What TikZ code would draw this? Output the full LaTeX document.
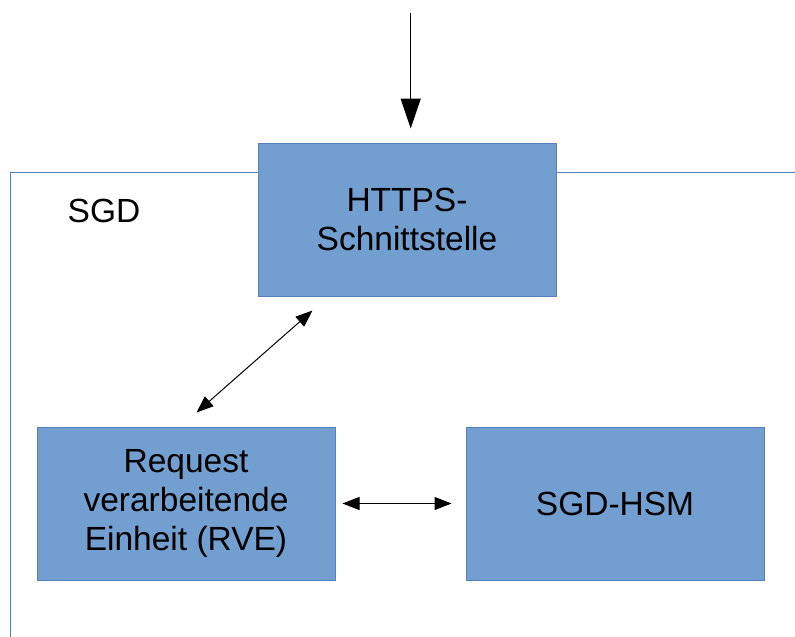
\documentclass[tikz,border=0pt]{standalone}
\usepackage{fontspec}
\setmainfont{Liberation Sans}
\usetikzlibrary{arrows.meta,calc}
\definecolor{boxfill}{HTML}{729FCF}
\definecolor{boxline}{HTML}{5683C0}
\definecolor{frameline}{HTML}{4F81BD}
\tikzset{
  unitbox/.style={draw=boxline, line width=1pt, fill=boxfill,
    minimum width=298pt, minimum height=153pt, inner sep=0pt,
    align=center, font=\fontsize{33.5}{39}\selectfont},
  inarrow/.style={line width=1.4pt, -{Triangle[length=30pt,width=20pt]}},
  linkarrow/.style={line width=1pt, {Triangle[length=17pt,width=13pt]}-{Triangle[length=17pt,width=13pt]}},
  framelabel/.style={font=\fontsize{33.5}{39}\selectfont, inner sep=0pt}
}
\begin{document}
\begin{tikzpicture}[x=1pt,y=-1pt]
  \useasboundingbox (0,0) rectangle (795,637);
  % open system frame
  \draw[frameline, line width=1pt] (10,637) -- (10,172) -- (795,172);
  \node[framelabel] (sgd) at (104,211) {SGD};
  % components
  \node[unitbox] (https) at (407,219.5) {HTTPS-\\Schnittstelle};
  \node[unitbox] (rve) at (186,503.5) {Request\\verarbeitende\\Einheit (RVE)};
  \node[unitbox] (hsm) at (615,503.5) {SGD-HSM};
  % connectors
  \coordinate (src) at ($(https.north)+(3.7,-130)$);
  \draw[inarrow] (src) -- ($(https.north)+(3.7,-14)$);
  \draw[linkarrow] ($(https.south west)+(55,14)$) -- ($(rve.north west)+(160,-14)$);
  \draw[linkarrow, shorten <=7pt, shorten >=14pt] (rve.east) -- (hsm.west);
\end{tikzpicture}
\end{document}
